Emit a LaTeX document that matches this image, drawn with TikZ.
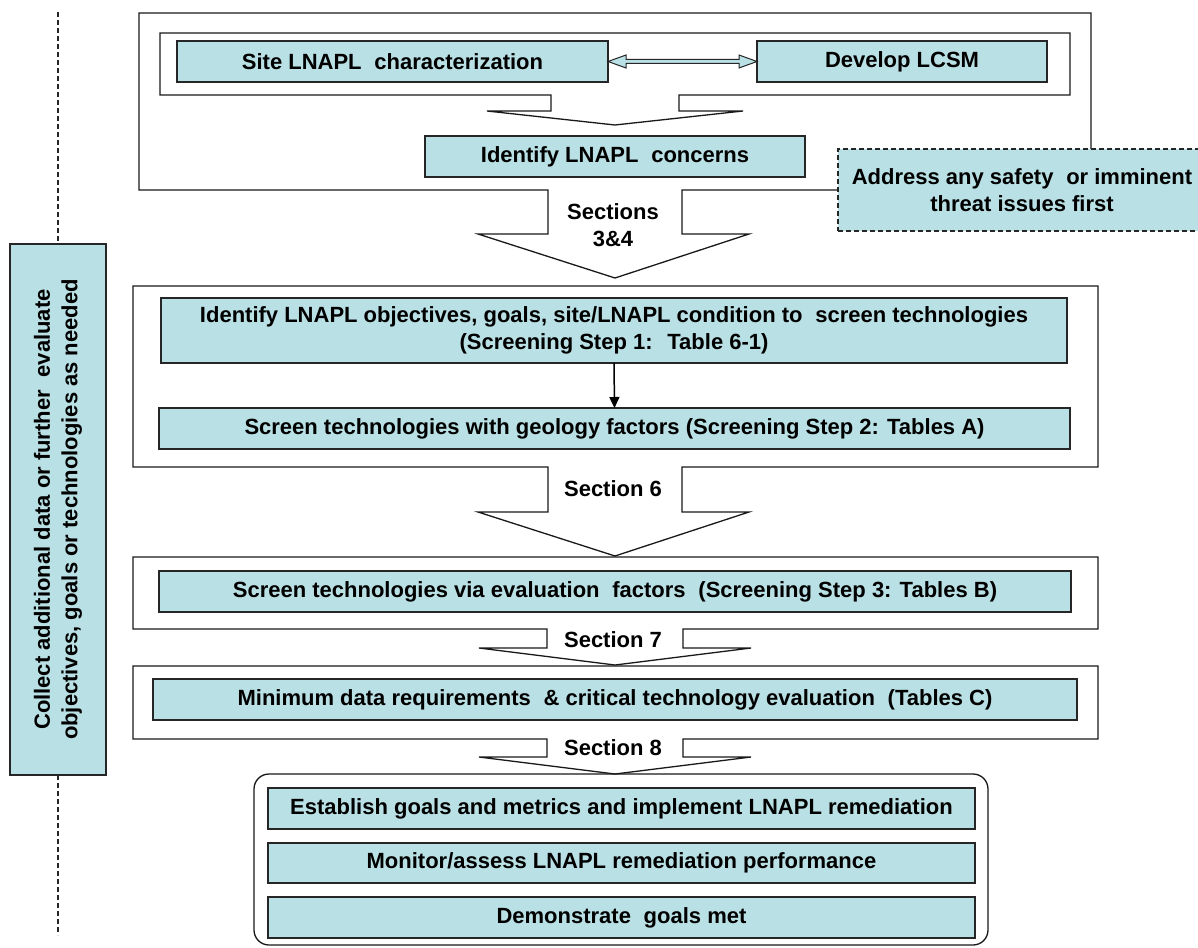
\documentclass[tikz,border=0pt]{standalone}
\usepackage{fontspec}
\setmainfont{Liberation Sans}
\usetikzlibrary{arrows.meta}
\definecolor{cyanfill}{RGB}{185,224,228}
\newcommand{\wsp}{\hspace{0.3em}}
\begin{document}
\begin{tikzpicture}[x=1pt,y=-1pt,line join=miter,
  txt/.style={font=\fontsize{22}{27.5}\selectfont\bfseries, align=center, text=black},
  cbox/.style={txt, draw=black!85, line width=1.3pt, fill=cyanfill, inner sep=0pt, outer sep=0pt},
  frame/.style={draw=black!90, line width=1.3pt},
  lbl/.style={txt, inner sep=0pt},
  dashline/.style={draw=black!85, line width=1.3pt, dash pattern=on 5pt off 3pt},
]
\fill[white] (0,0) rectangle (1198,947);
\useasboundingbox (0,0) rectangle (1198,947);

% frames with block arrows
\draw[frame] (139,13) -- (1091,13) -- (1091,190) -- (682,190) -- (682,234) -- (749,234) -- (615,278) -- (478,234) -- (548,234) -- (548,190) -- (139,190) -- cycle;
\draw[frame] (160,33) -- (1070,33) -- (1070,95) -- (679,95) -- (679,111) -- (743,111) -- (615,125) -- (487,111) -- (551,111) -- (551,95) -- (160,95) -- cycle;
\draw[frame] (133,286) -- (1098,286) -- (1098,467) -- (682,467) -- (682,512) -- (749,512) -- (615,556) -- (478,512) -- (548,512) -- (548,467) -- (133,467) -- cycle;
\draw[frame] (133,557) -- (1098,557) -- (1098,629) -- (683,629) -- (683,648) -- (751,648) -- (615,665) -- (479,648) -- (547,648) -- (547,629) -- (133,629) -- cycle;
\draw[frame] (133,666) -- (1098,666) -- (1098,739) -- (683,739) -- (683,757) -- (751,757) -- (615,774) -- (479,757) -- (547,757) -- (547,739) -- (133,739) -- cycle;
\draw[frame, rounded corners=15pt] (254,774) rectangle (988,945);

% boxes
\node[cbox, minimum width=431, minimum height=41] (site) at (392.5,61.5) {Site LNAPL\wsp{} characterization};
\node[cbox, minimum width=290, minimum height=41] (lcsm) at (902,61.5) {Develop LCSM};
\node[cbox, minimum width=380, minimum height=41] (concerns) at (615,156.5) {Identify LNAPL\wsp{} concerns};
\node[cbox, dash pattern=on 5pt off 3pt, minimum width=368, minimum height=82] (safety) at (1022,190) {Address any safety\wsp{} or imminent\\threat issues first};
\node[cbox, minimum width=906, minimum height=65] (obj) at (614,330.5) {Identify LNAPL objectives, goals, site/LNAPL condition to\wsp{} screen technologies\\(Screening Step 1:\wsp{} Table 6-1)};
\node[cbox, minimum width=911, minimum height=41] (geo) at (614.5,428.5) {Screen technologies with geology factors (Screening Step 2: Tables A)};
\node[cbox, minimum width=912, minimum height=41] (tabB) at (615,591.5) {Screen technologies via evaluation\wsp{} factors\wsp{} (Screening Step 3: Tables B)};
\node[cbox, minimum width=924, minimum height=41] (tabC) at (615,699.5) {Minimum data requirements\wsp{} \& critical technology evaluation\wsp{} (Tables C)};
\node[cbox, minimum width=707, minimum height=41] (est) at (621.5,808.5) {Establish goals and metrics and implement LNAPL remediation};
\node[cbox, minimum width=707, minimum height=40] (mon) at (621.5,863) {Monitor/assess LNAPL remediation performance};
\node[cbox, minimum width=707, minimum height=41] (dem) at (621.5,917.5) {Demonstrate\wsp{} goals met};
\node[cbox, rotate=90, minimum width=531, minimum height=96] (collect) at (58,509.5) {Collect additional data or further\wsp{} evaluate\\objectives, goals or technologies as needed};

% double block arrow
\draw[draw=black!85, line width=1pt, fill=cyanfill] (site.east) -- ++(18,-6.5) -- ++(0,4.5) -- ++(113,0) -- ++(0,-4.5) -- (lcsm.west) -- ++(-18,6.5) -- ++(0,-4.5) -- ++(-113,0) -- ++(0,4.5) -- cycle;

% connector
\draw[black, line width=1.5pt, -{Triangle[length=11pt,width=10pt]}] (obj.south) -- (geo.north);

% section labels
\node[lbl] (s34) at (613,225) {Sections\\3\&4};
\node[lbl] (s6) at (613,489) {Section 6};
\node[lbl] (s7) at (613,640) {Section 7};
\node[lbl] (s8) at (613,748) {Section 8};

% left dashed line
\coordinate (ltop) at (58,12);
\coordinate (lbot) at (58,935);
\draw[dashline] (ltop) -- (collect.east);
\draw[dashline] (collect.west) -- (lbot);
\end{tikzpicture}
\end{document}
